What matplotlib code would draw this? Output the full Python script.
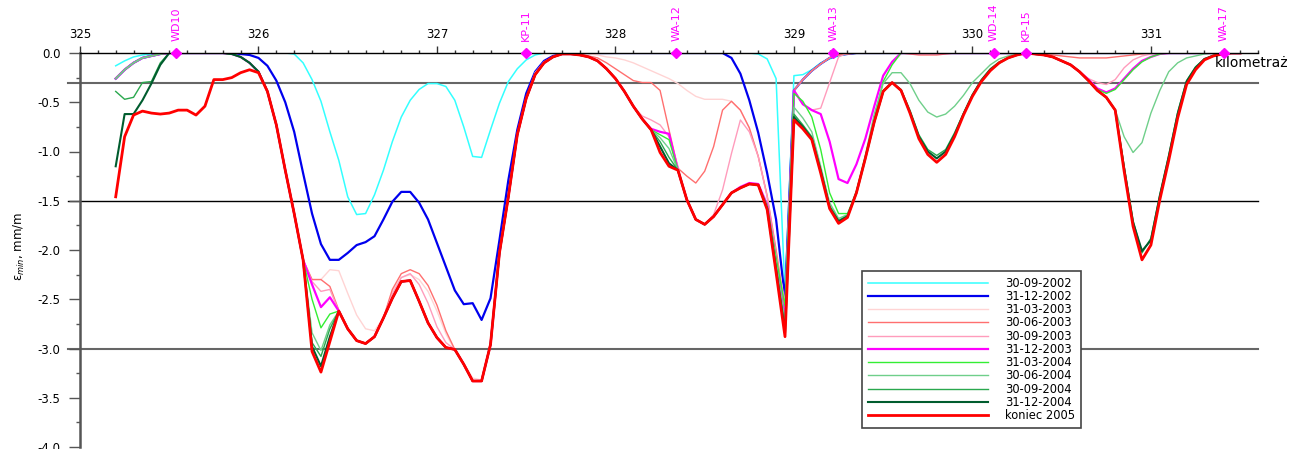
import numpy as np
import matplotlib
matplotlib.use('Agg')
import matplotlib.pyplot as plt
from matplotlib.ticker import MultipleLocator, FormatStrFormatter

# === Dane: odczyty co 0.05 km ===
km = np.round(np.arange(325.20, 331.501, 0.05), 2)

e_2002_09 = [
    -0.13, -0.08, -0.04, -0.02, -0.01, 0.00, 0.00, 0.00, 0.00, 0.00,
    0.00, 0.00, 0.00, 0.00, 0.00, 0.00, 0.00, 0.00, 0.00, 0.00,
    -0.01, -0.10, -0.27, -0.49, -0.80, -1.09, -1.46, -1.64, -1.63, -1.44,
    -1.19, -0.90, -0.65, -0.48, -0.37, -0.31, -0.31, -0.34, -0.48, -0.75,
    -1.05, -1.06, -0.78, -0.51, -0.29, -0.16, -0.07, -0.02, 0.00, 0.00,
    0.00, 0.00, 0.00, 0.00, 0.00, 0.00, 0.00, 0.00, 0.00, 0.00,
    0.00, 0.00, 0.00, 0.00, 0.00, 0.00, 0.00, 0.00, 0.00, 0.00,
    0.00, 0.00, -0.01, -0.06, -0.26, -2.45, -0.23, -0.22, -0.17, -0.10,
    -0.06, -0.03, -0.01, 0.00, 0.00, 0.00, 0.00, 0.00, 0.00, 0.00,
    0.00, 0.00, 0.00, 0.00, 0.00, 0.00, 0.00, 0.00, 0.00, 0.00,
    0.00, 0.00, 0.00, 0.00, 0.00, 0.00, 0.00, 0.00, 0.00, 0.00,
    0.00, 0.00, 0.00, 0.00, 0.00, 0.00, 0.00, 0.00, 0.00, 0.00,
    0.00, 0.00, 0.00, 0.00, 0.00, 0.00, 0.00]

e_2002_12 = [
    -0.26, -0.17, -0.10, -0.05, -0.03, -0.01, 0.00, 0.00, 0.00, 0.00,
    0.00, 0.00, 0.00, 0.00, -0.01, -0.02, -0.05, -0.13, -0.28, -0.50,
    -0.80, -1.22, -1.63, -1.94, -2.10, -2.10, -2.03, -1.95, -1.92, -1.86,
    -1.69, -1.51, -1.41, -1.41, -1.52, -1.69, -1.93, -2.17, -2.41, -2.55,
    -2.54, -2.71, -2.49, -1.90, -1.29, -0.78, -0.41, -0.19, -0.08, -0.03,
    -0.01, 0.00, 0.00, 0.00, 0.00, 0.00, 0.00, 0.00, 0.00, 0.00,
    0.00, 0.00, 0.00, 0.00, 0.00, 0.00, 0.00, 0.00, 0.00, -0.05,
    -0.21, -0.48, -0.81, -1.22, -1.69, -2.50, -0.38, -0.27, -0.18, -0.11,
    -0.05, -0.02, -0.01, 0.00, 0.00, 0.00, 0.00, 0.00, 0.00, 0.00,
    0.00, 0.00, 0.00, 0.00, 0.00, 0.00, 0.00, 0.00, 0.00, 0.00,
    0.00, 0.00, 0.00, 0.00, 0.00, 0.00, 0.00, 0.00, 0.00, 0.00,
    0.00, 0.00, 0.00, 0.00, 0.00, 0.00, 0.00, 0.00, 0.00, 0.00,
    0.00, 0.00, 0.00, 0.00, 0.00, 0.00, 0.00]

e_2003_03 = [
    -0.26, -0.17, -0.10, -0.05, -0.03, -0.01, 0.00, 0.00, 0.00, 0.00,
    0.00, 0.00, 0.00, -0.01, -0.04, -0.10, -0.19, -0.39, -0.73, -1.19,
    -1.63, -2.10, -2.30, -2.30, -2.20, -2.21, -2.44, -2.66, -2.80, -2.82,
    -2.69, -2.42, -2.28, -2.25, -2.30, -2.42, -2.62, -2.85, -3.02, -3.15,
    -3.30, -3.32, -2.96, -2.03, -1.46, -0.83, -0.46, -0.20, -0.09, -0.04,
    -0.01, 0.00, 0.00, -0.01, -0.02, -0.04, -0.05, -0.07, -0.10, -0.14,
    -0.18, -0.22, -0.26, -0.31, -0.38, -0.44, -0.47, -0.47, -0.47, -0.49,
    -0.58, -0.76, -1.05, -1.45, -2.00, -2.55, -0.38, -0.27, -0.18, -0.11,
    -0.05, -0.02, -0.01, 0.00, 0.00, 0.00, 0.00, 0.00, 0.00, 0.00,
    0.00, 0.00, 0.00, 0.00, 0.00, 0.00, 0.00, 0.00, 0.00, 0.00,
    0.00, 0.00, 0.00, 0.00, 0.00, 0.00, 0.00, 0.00, 0.00, 0.00,
    0.00, 0.00, 0.00, 0.00, 0.00, 0.00, 0.00, 0.00, 0.00, 0.00,
    0.00, 0.00, 0.00, 0.00, 0.00, 0.00, 0.00]

e_2003_06 = [
    -0.26, -0.17, -0.10, -0.05, -0.03, -0.01, 0.00, 0.00, 0.00, 0.00,
    0.00, 0.00, 0.00, -0.01, -0.04, -0.10, -0.19, -0.39, -0.73, -1.19,
    -1.63, -2.10, -2.30, -2.30, -2.37, -2.61, -2.80, -2.92, -2.95, -2.88,
    -2.69, -2.40, -2.24, -2.20, -2.24, -2.36, -2.56, -2.82, -3.01, -3.16,
    -3.33, -3.33, -2.96, -2.03, -1.46, -0.83, -0.46, -0.22, -0.10, -0.04,
    -0.01, 0.00, -0.01, -0.03, -0.05, -0.10, -0.16, -0.22, -0.28, -0.30,
    -0.30, -0.38, -0.78, -1.17, -1.25, -1.32, -1.20, -0.95, -0.58, -0.49,
    -0.58, -0.76, -1.05, -1.45, -2.00, -2.60, -0.38, -0.27, -0.18, -0.11,
    -0.05, -0.02, -0.01, 0.00, 0.00, 0.00, 0.00, 0.00, 0.00, -0.01,
    -0.02, -0.02, -0.02, -0.01, 0.00, 0.00, 0.00, 0.00, 0.00, 0.00,
    0.00, 0.00, 0.00, 0.00, -0.01, -0.02, -0.03, -0.04, -0.05, -0.05,
    -0.05, -0.05, -0.04, -0.03, -0.02, -0.01, 0.00, 0.00, 0.00, 0.00,
    0.00, 0.00, 0.00, 0.00, 0.00, 0.00, 0.00]

e_2003_09 = [
    -0.26, -0.17, -0.10, -0.05, -0.03, -0.01, 0.00, 0.00, 0.00, 0.00,
    0.00, 0.00, 0.00, -0.01, -0.04, -0.10, -0.19, -0.39, -0.73, -1.19,
    -1.63, -2.10, -2.32, -2.42, -2.40, -2.62, -2.80, -2.92, -2.95, -2.88,
    -2.69, -2.45, -2.28, -2.24, -2.35, -2.54, -2.78, -2.94, -3.01, -3.16,
    -3.33, -3.33, -2.96, -2.03, -1.46, -0.83, -0.46, -0.22, -0.10, -0.04,
    -0.01, -0.01, -0.02, -0.04, -0.08, -0.16, -0.26, -0.39, -0.54, -0.64,
    -0.68, -0.73, -0.85, -1.15, -1.49, -1.69, -1.74, -1.64, -1.39, -1.02,
    -0.68, -0.80, -1.05, -1.46, -2.05, -2.65, -0.38, -0.52, -0.58, -0.56,
    -0.30, -0.04, 0.00, 0.00, 0.00, 0.00, 0.00, 0.00, 0.00, 0.00,
    0.00, 0.00, 0.00, 0.00, 0.00, 0.00, 0.00, 0.00, 0.00, 0.00,
    0.00, 0.00, 0.00, -0.01, -0.02, -0.04, -0.08, -0.12, -0.19, -0.26,
    -0.30, -0.32, -0.27, -0.15, -0.07, -0.03, -0.01, 0.00, 0.00, 0.00,
    0.00, 0.00, 0.00, 0.00, 0.00, 0.00, 0.00]

e_2003_12 = [
    -0.26, -0.17, -0.10, -0.05, -0.03, -0.01, 0.00, 0.00, 0.00, 0.00,
    0.00, 0.00, 0.00, -0.01, -0.04, -0.10, -0.19, -0.39, -0.73, -1.19,
    -1.63, -2.10, -2.35, -2.58, -2.48, -2.62, -2.80, -2.92, -2.95, -2.88,
    -2.69, -2.49, -2.32, -2.31, -2.52, -2.74, -2.89, -2.99, -3.01, -3.16,
    -3.33, -3.33, -2.96, -2.03, -1.46, -0.83, -0.46, -0.22, -0.10, -0.04,
    -0.01, -0.01, -0.02, -0.04, -0.08, -0.16, -0.26, -0.39, -0.54, -0.67,
    -0.77, -0.80, -0.82, -1.19, -1.49, -1.69, -1.74, -1.66, -1.54, -1.42,
    -1.36, -1.32, -1.33, -1.54, -2.12, -2.70, -0.38, -0.52, -0.58, -0.62,
    -0.90, -1.28, -1.32, -1.13, -0.87, -0.54, -0.23, -0.09, 0.00, 0.00,
    0.00, 0.00, 0.00, 0.00, 0.00, 0.00, 0.00, 0.00, 0.00, 0.00,
    0.00, 0.00, 0.00, -0.01, -0.02, -0.04, -0.08, -0.12, -0.19, -0.27,
    -0.36, -0.40, -0.36, -0.26, -0.16, -0.08, -0.04, -0.01, 0.00, 0.00,
    0.00, 0.00, 0.00, 0.00, 0.00, 0.00, 0.00]

e_2004_03 = [
    -0.26, -0.17, -0.10, -0.05, -0.03, -0.01, 0.00, 0.00, 0.00, 0.00,
    0.00, 0.00, 0.00, -0.01, -0.04, -0.10, -0.19, -0.39, -0.73, -1.19,
    -1.63, -2.10, -2.50, -2.79, -2.65, -2.62, -2.80, -2.92, -2.95, -2.88,
    -2.69, -2.49, -2.32, -2.31, -2.52, -2.74, -2.89, -2.99, -3.01, -3.16,
    -3.33, -3.33, -2.96, -2.03, -1.46, -0.83, -0.46, -0.22, -0.10, -0.04,
    -0.01, -0.01, -0.02, -0.04, -0.08, -0.16, -0.26, -0.39, -0.54, -0.67,
    -0.78, -0.83, -0.88, -1.19, -1.49, -1.69, -1.74, -1.66, -1.54, -1.42,
    -1.37, -1.33, -1.34, -1.55, -2.08, -2.57, -0.41, -0.49, -0.65, -0.98,
    -1.42, -1.63, -1.63, -1.42, -1.05, -0.66, -0.29, -0.12, 0.00, 0.00,
    0.00, 0.00, 0.00, 0.00, 0.00, 0.00, 0.00, 0.00, 0.00, 0.00,
    0.00, 0.00, 0.00, -0.01, -0.02, -0.04, -0.08, -0.12, -0.19, -0.28,
    -0.37, -0.41, -0.37, -0.27, -0.17, -0.09, -0.04, -0.01, 0.00, 0.00,
    0.00, 0.00, 0.00, 0.00, 0.00, 0.00, 0.00]

e_2004_06 = [
    -0.26, -0.17, -0.10, -0.05, -0.03, -0.01, 0.00, 0.00, 0.00, 0.00,
    0.00, 0.00, 0.00, -0.01, -0.04, -0.10, -0.19, -0.39, -0.73, -1.19,
    -1.63, -2.10, -2.84, -3.02, -2.76, -2.62, -2.80, -2.92, -2.95, -2.88,
    -2.69, -2.49, -2.32, -2.31, -2.52, -2.74, -2.89, -2.99, -3.01, -3.16,
    -3.33, -3.33, -2.96, -2.03, -1.46, -0.83, -0.46, -0.22, -0.10, -0.04,
    -0.01, -0.01, -0.02, -0.04, -0.08, -0.16, -0.26, -0.39, -0.54, -0.67,
    -0.78, -0.86, -0.97, -1.19, -1.49, -1.69, -1.74, -1.66, -1.54, -1.42,
    -1.37, -1.33, -1.34, -1.56, -2.14, -2.72, -0.55, -0.66, -0.80, -1.15,
    -1.52, -1.68, -1.64, -1.40, -1.04, -0.62, -0.31, -0.20, -0.20, -0.31,
    -0.48, -0.60, -0.65, -0.62, -0.54, -0.43, -0.30, -0.21, -0.12, -0.06,
    -0.03, -0.01, 0.00, -0.01, -0.02, -0.04, -0.08, -0.12, -0.19, -0.28,
    -0.38, -0.45, -0.58, -0.85, -1.01, -0.91, -0.61, -0.38, -0.19, -0.10,
    -0.05, -0.03, -0.01, 0.00, 0.00, 0.00, 0.00]

e_2004_09 = [
    -0.39, -0.47, -0.45, -0.30, -0.29, -0.10, 0.00, 0.00, 0.00, 0.00,
    0.00, 0.00, 0.00, -0.01, -0.04, -0.10, -0.19, -0.39, -0.73, -1.19,
    -1.63, -2.10, -2.94, -3.08, -2.80, -2.62, -2.80, -2.92, -2.95, -2.88,
    -2.69, -2.49, -2.32, -2.31, -2.52, -2.74, -2.89, -2.99, -3.01, -3.16,
    -3.33, -3.33, -2.96, -2.03, -1.46, -0.83, -0.46, -0.22, -0.10, -0.04,
    -0.01, -0.01, -0.02, -0.04, -0.08, -0.16, -0.26, -0.39, -0.54, -0.67,
    -0.78, -0.90, -1.06, -1.19, -1.49, -1.69, -1.74, -1.66, -1.54, -1.42,
    -1.37, -1.33, -1.34, -1.57, -2.17, -2.80, -0.62, -0.73, -0.85, -1.18,
    -1.55, -1.70, -1.65, -1.41, -1.06, -0.69, -0.38, -0.30, -0.37, -0.58,
    -0.83, -0.98, -1.04, -0.98, -0.81, -0.61, -0.42, -0.27, -0.16, -0.09,
    -0.05, -0.02, 0.00, -0.01, -0.02, -0.04, -0.08, -0.12, -0.19, -0.28,
    -0.38, -0.45, -0.58, -1.15, -1.70, -2.03, -1.88, -1.44, -1.04, -0.60,
    -0.28, -0.14, -0.06, -0.02, -0.01, 0.00, 0.00]

e_2004_12 = [
    -1.15, -0.62, -0.62, -0.48, -0.31, -0.12, 0.00, 0.00, 0.00, 0.00,
    0.00, 0.00, 0.00, -0.01, -0.04, -0.10, -0.19, -0.39, -0.73, -1.19,
    -1.63, -2.10, -2.98, -3.18, -2.88, -2.62, -2.80, -2.92, -2.95, -2.88,
    -2.69, -2.49, -2.32, -2.31, -2.52, -2.74, -2.89, -2.99, -3.01, -3.16,
    -3.33, -3.33, -2.96, -2.03, -1.46, -0.83, -0.46, -0.22, -0.10, -0.04,
    -0.01, -0.01, -0.02, -0.04, -0.08, -0.16, -0.26, -0.39, -0.54, -0.67,
    -0.78, -0.95, -1.12, -1.19, -1.49, -1.69, -1.74, -1.66, -1.54, -1.42,
    -1.37, -1.33, -1.34, -1.58, -2.20, -2.84, -0.65, -0.75, -0.87, -1.20,
    -1.57, -1.71, -1.66, -1.42, -1.07, -0.70, -0.39, -0.30, -0.38, -0.60,
    -0.85, -1.00, -1.07, -1.00, -0.83, -0.62, -0.43, -0.28, -0.17, -0.10,
    -0.05, -0.02, 0.00, -0.01, -0.02, -0.04, -0.08, -0.12, -0.19, -0.28,
    -0.38, -0.45, -0.58, -1.17, -1.72, -2.01, -1.90, -1.45, -1.05, -0.62,
    -0.29, -0.15, -0.06, -0.03, -0.01, 0.00, 0.00]

e_2005 = [
    -1.46, -0.85, -0.63, -0.59, -0.61, -0.62, -0.61, -0.58, -0.58, -0.63,
    -0.54, -0.27, -0.27, -0.25, -0.20, -0.17, -0.20, -0.39, -0.73, -1.19,
    -1.63, -2.10, -3.03, -3.24, -2.93, -2.62, -2.80, -2.92, -2.95, -2.88,
    -2.69, -2.49, -2.32, -2.31, -2.52, -2.74, -2.89, -2.99, -3.01, -3.16,
    -3.33, -3.33, -2.96, -2.03, -1.46, -0.83, -0.46, -0.22, -0.10, -0.04,
    -0.01, -0.01, -0.02, -0.04, -0.08, -0.16, -0.26, -0.39, -0.54, -0.67,
    -0.78, -1.01, -1.15, -1.19, -1.49, -1.69, -1.74, -1.66, -1.54, -1.42,
    -1.37, -1.33, -1.34, -1.59, -2.23, -2.88, -0.68, -0.77, -0.88, -1.22,
    -1.58, -1.73, -1.67, -1.42, -1.07, -0.70, -0.39, -0.30, -0.38, -0.61,
    -0.87, -1.03, -1.11, -1.03, -0.85, -0.63, -0.44, -0.29, -0.18, -0.10,
    -0.05, -0.02, 0.00, -0.01, -0.02, -0.04, -0.08, -0.12, -0.19, -0.28,
    -0.38, -0.45, -0.58, -1.20, -1.76, -2.10, -1.95, -1.49, -1.09, -0.66,
    -0.32, -0.17, -0.07, -0.03, -0.01, 0.00, 0.00]

labels = ['30-09-2002', '31-12-2002', '31-03-2003', '30-06-2003', '30-09-2003',
          '31-12-2003', '31-03-2004', '30-06-2004', '30-09-2004', '31-12-2004',
          'koniec 2005']
values = [e_2002_09, e_2002_12, e_2003_03, e_2003_06, e_2003_09, e_2003_12,
          e_2004_03, e_2004_06, e_2004_09, e_2004_12, e_2005]
colors = ['#33ffff', '#0000ee', '#ffd4d4', '#ff6f6f', '#ff9cbc', '#ff00ff',
          '#33ee33', '#6fcf8a', '#2aa84e', '#005c2e', '#ff0000']
widths = [1.1, 1.6, 1.0, 1.0, 1.0, 1.6, 1.0, 1.0, 1.0, 1.5, 2.0]

# punkty pomiarowe
station_km = [325.54, 327.50, 328.34, 329.22, 330.12, 330.30, 331.41]
station_names = ['WD10', 'KP-11', 'WA-12', 'WA-13', 'WD-14', 'KP-15', 'WA-17']

# === Wykres ===
W, H = 1295, 449
fig = plt.figure(figsize=(W / 100, H / 100), dpi=100)
ax = fig.add_axes([80 / W, 2 / H, 1178 / W, 394 / H])

for y, c, lw in [(-0.3, '#666666', 1.5), (-1.5, '#000000', 1.0), (-3.0, '#666666', 1.5)]:
    ax.axhline(y, xmin=-0.01, xmax=1.0, color=c, lw=lw, clip_on=False, zorder=1)

for lab, v, c, lw in zip(labels, values, colors, widths):
    ax.plot(km, v, color=c, lw=lw, label=lab, zorder=2)

ax.plot(station_km, [0] * len(station_km), 'D', color='#ff00ff', ms=5,
        clip_on=False, zorder=10)
for x, name in zip(station_km, station_names):
    ax.annotate(name, (x, 0), xytext=(0, 8.5), textcoords='offset points',
                rotation=90, ha='center', va='bottom', color='#ff00ff',
                fontsize=8, annotation_clip=False)

ax.set_xlim(325, 331.6)
ax.set_ylim(-4.0, 0.0)
ax.xaxis.tick_top()
ax.set_xticks(range(325, 332))
ax.xaxis.set_minor_locator(MultipleLocator(0.1))
ax.yaxis.set_major_locator(MultipleLocator(0.5))
ax.yaxis.set_minor_locator(MultipleLocator(0.25))
ax.yaxis.set_major_formatter(FormatStrFormatter('%.1f'))
ax.tick_params(axis='x', which='major', direction='out', length=5, width=1,
               color='#333333', labelsize=8.5, pad=4)
ax.tick_params(axis='x', which='minor', direction='out', length=2.5, width=1,
               color='#333333')
ax.tick_params(axis='y', which='major', direction='out', length=8, width=1,
               color='#555555', labelsize=8.5, pad=6)
ax.tick_params(axis='y', which='minor', direction='out', length=3, width=1,
               color='#555555')

ax.spines['right'].set_visible(False)
ax.spines['bottom'].set_visible(False)
ax.spines['top'].set_color('#000000')
ax.spines['top'].set_linewidth(1.0)
ax.spines['left'].set_color('#555555')
ax.spines['left'].set_linewidth(1.8)

ax.text(331.36, -0.10, 'kilometraż', fontsize=10, ha='left', va='center',
        clip_on=False)
fig.text(19 / W, 1 - 246 / H, 'ε$_{min}$, mm/m', rotation=90, ha='center',
         va='center', fontsize=8.5)

leg = ax.legend(loc='upper left', bbox_to_anchor=(862 / W, 1 - 271 / H),
                bbox_transform=fig.transFigure, fontsize=8.3, frameon=True,
                fancybox=False, framealpha=1, edgecolor='#444444',
                handlelength=10.4, handletextpad=1.5, labelspacing=0.02,
                borderpad=0.5, borderaxespad=0)
leg.get_frame().set_linewidth(1.2)
leg.set_zorder(20)

fig.savefig('out.png', dpi=100)
